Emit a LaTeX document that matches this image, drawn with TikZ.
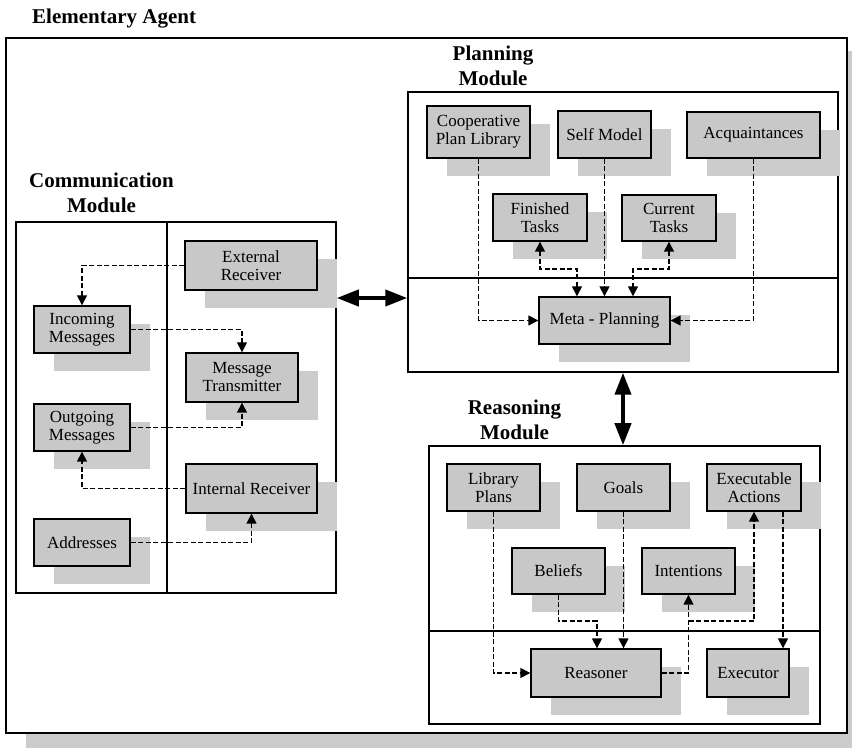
\documentclass[tikz,border=0pt]{standalone}
\usepackage{fontspec}
\setmainfont{Liberation Serif}
\usetikzlibrary{arrows.meta,shadows,calc}
\definecolor{boxgray}{RGB}{200,200,200}
\definecolor{shadegray}{RGB}{204,204,204}
\begin{document}
\begin{tikzpicture}[x=1pt,y=-1pt,
  title/.style={font=\fontsize{21}{25}\selectfont\bfseries, align=center, inner sep=0pt},
  module/.style={draw, line width=1.5pt, inner sep=0pt, fill=white},
  blk/.style={draw, line width=1.4pt, fill=boxgray, inner sep=0pt, align=center,
     font=\fontsize{17}{18}\selectfont,
     drop shadow={shadow xshift=19.5pt, shadow yshift=-18pt, fill=shadegray, opacity=1}},
  flow/.style={line width=1.5pt, dash pattern=on 5pt off 2.5pt, -{Triangle[length=10pt,width=10pt]}},
  both/.style={line width=1.5pt, dash pattern=on 5pt off 2.5pt,
     {Triangle[length=10pt,width=10pt]}-{Triangle[length=10pt,width=10pt]}},
  link/.style={line width=4pt, {Triangle[length=22pt,width=16pt]}-{Triangle[length=22pt,width=16pt]}}
]
\useasboundingbox (0,0) rectangle (852,751);

% outer agent frame with its shadow
\fill[shadegray] (26,51) rectangle (852,748);
\draw[line width=1.8pt, fill=white] (6,38) rectangle (847,733);
\node[title, anchor=base west] (agent) at (32,24) {Elementary Agent};

% module frames (the base anchor of a two-line title sits on its last line)
\node[module, minimum width=320pt, minimum height=371pt] (comm) at (176,407.5) {};
\draw[line width=1.5pt] (167,222) -- (167,593);
\node[title, anchor=base] (commt) at (101.5,213) {Communication\\Module};

\node[module, minimum width=430pt, minimum height=280pt] (plan) at (623,232) {};
\draw[line width=1.5pt] (408,278) -- (838,278);
\node[title, anchor=base] (plant) at (493,86) {Planning\\Module};

\node[module, minimum width=391pt, minimum height=278pt] (reas) at (624.5,585) {};
\draw[line width=1.5pt] (429,631) -- (820,631);
\node[title, anchor=base] (reast) at (514.5,439) {Reasoning\\Module};

% communication module
\node[blk, minimum width=132pt, minimum height=49pt] (ext) at (251,265.5) {External\\Receiver};
\node[blk, minimum width=96pt, minimum height=47pt] (inc) at (82,329.5) {Incoming\\Messages};
\node[blk, minimum width=112pt, minimum height=49pt] (trans) at (242,377.5) {Message\\Transmitter};
\node[blk, minimum width=96pt, minimum height=47pt] (out) at (82,427.5) {Outgoing\\Messages};
\node[blk, minimum width=131pt, minimum height=49pt] (intr) at (251.5,488.5) {Internal Receiver};
\node[blk, minimum width=96pt, minimum height=47pt] (addr) at (82,542.5) {Addresses};

% planning module
\node[blk, minimum width=103pt, minimum height=52pt] (coop) at (478.5,132) {Cooperative\\Plan Library};
\node[blk, minimum width=93pt, minimum height=47pt] (self) at (604.5,134.5) {Self Model};
\node[blk, minimum width=133pt, minimum height=46pt] (acq) at (753.5,135) {Acquaintances};
\node[blk, minimum width=94pt, minimum height=47pt] (fin) at (540,217.5) {Finished\\Tasks};
\node[blk, minimum width=94pt, minimum height=46pt] (cur) at (669,218) {Current\\Tasks};
\node[blk, minimum width=131pt, minimum height=47pt] (meta) at (604.5,320.5) {Meta - Planning};

% reasoning module
\node[blk, minimum width=93pt, minimum height=47pt] (lib) at (493.5,487.5) {Library\\Plans};
\node[blk, minimum width=93pt, minimum height=47pt] (goals) at (623.5,487.5) {Goals};
\node[blk, minimum width=94pt, minimum height=47pt] (exa) at (754,487.5) {Executable\\Actions};
\node[blk, minimum width=93pt, minimum height=46pt] (bel) at (558.5,571) {Beliefs};
\node[blk, minimum width=93pt, minimum height=46pt] (int) at (688.5,571) {Intentions};
\node[blk, minimum width=130pt, minimum height=48pt] (rsn) at (596,673) {Reasoner};
\node[blk, minimum width=82pt, minimum height=48pt] (exe) at (748,673) {Executor};

% junction points of the dashed flows
\coordinate (fj) at (577,269);
\coordinate (cj) at (633,269);
\coordinate (bj) at (597,621);
\coordinate (rj) at (688.5,621);
\coordinate (hy) at (372,298);

% communication flows
\draw[flow] (ext.west) -| (inc.north);
\draw[flow] (inc.east) -| (trans.north);
\draw[flow] (out.east) -| (trans.south);
\draw[flow] (intr.west) -| (out.south);
\draw[flow] (addr.east) -| (intr.south);

% planning flows
\draw[flow] (coop.south) |- (meta.west);
\draw[flow] (self.south) -- (self.south |- meta.north);
\draw[flow] (acq.south) |- (meta.east);
\draw[both] (fin.south) |- (fj) -- (fj |- meta.north);
\draw[both] (cur.south) |- (cj) -- (cj |- meta.north);

% reasoning flows
\draw[flow] (lib.south) |- (rsn.west);
\draw[flow] (goals.south) -- (goals.south |- rsn.north);
\draw[flow] (bel.south) |- (bj) -- (bj |- rsn.north);
\draw[flow] (rsn.east) -| (int.south);
\draw[flow] (rj) -| (exa.south);
\draw[flow] ([xshift=29pt]exa.south) -- ([xshift=35pt]exe.north);

% links between modules
\draw[link] (comm.east |- hy) -- (plan.west |- hy);
\draw[link] (plan.south) -- (plan.south |- reas.north);
\end{tikzpicture}
\end{document}
